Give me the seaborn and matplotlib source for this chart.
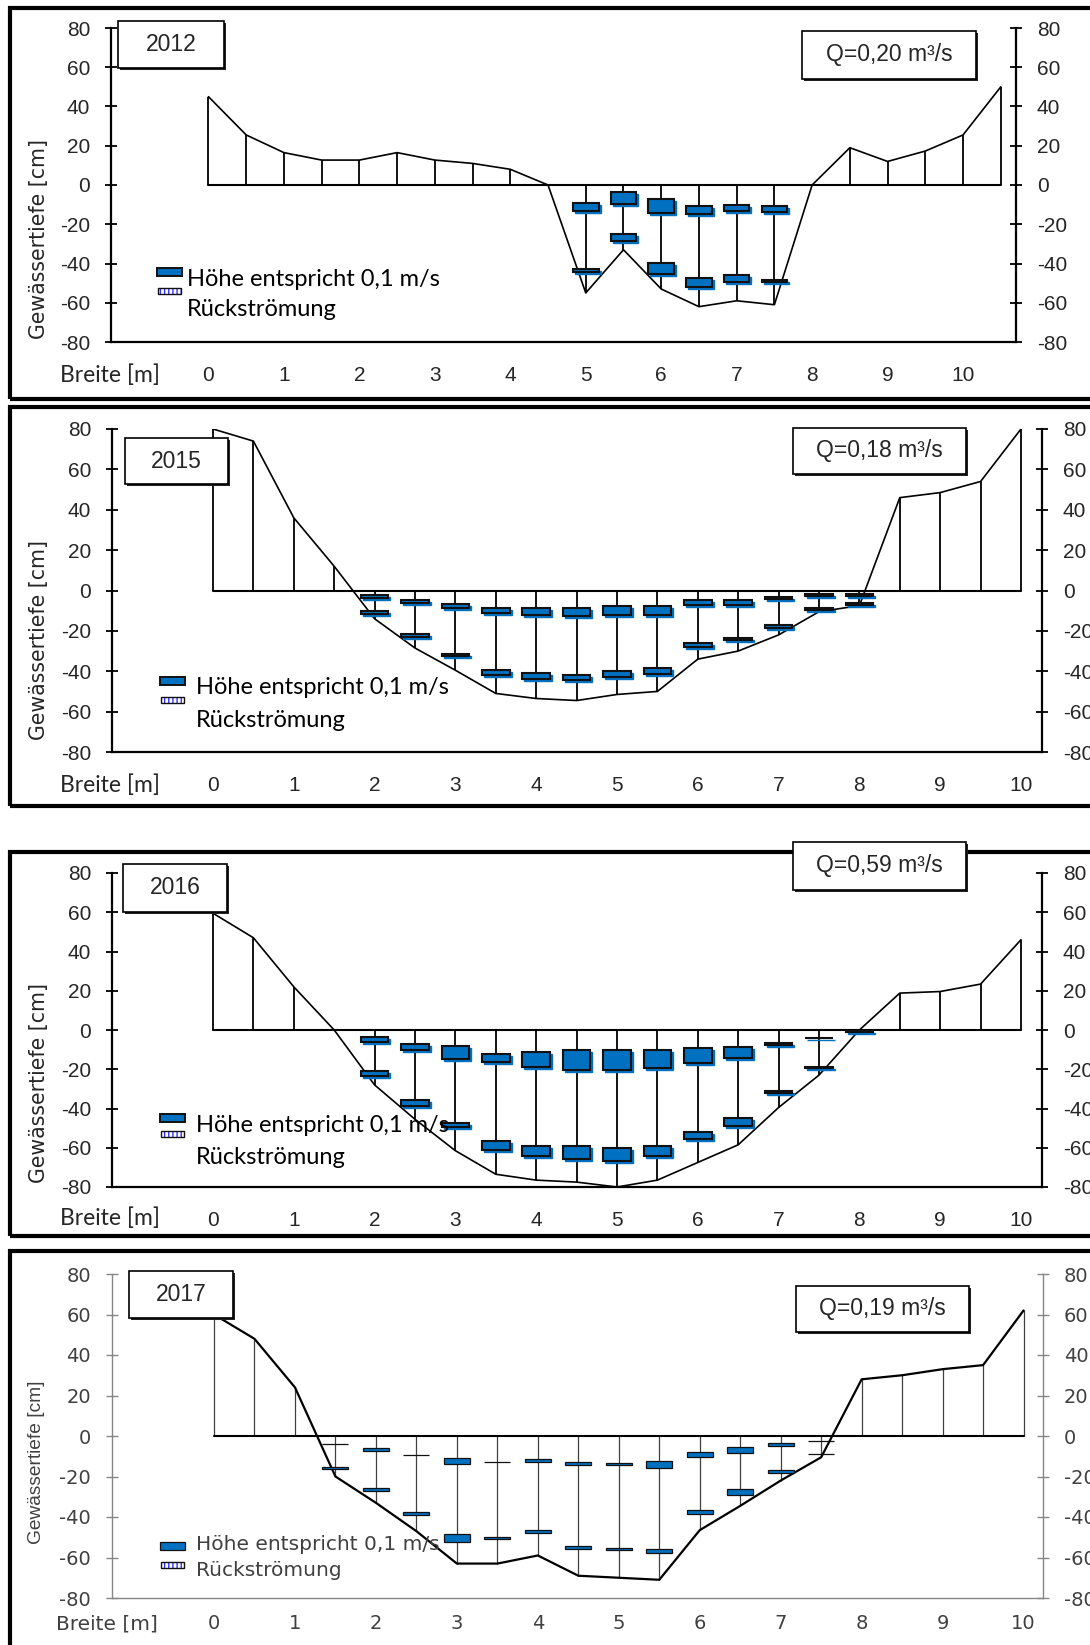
import numpy as np
import matplotlib
matplotlib.use('Agg')
import matplotlib.pyplot as plt
import seaborn as sns
from matplotlib.patches import Rectangle
from matplotlib import transforms

xs = np.arange(0, 10.01, 0.5)
x12 = np.arange(0, 10.51, 0.5)

bed12 = [45, 25.5, 16.5, 12.7, 12.7, 16.5, 12.7, 11, 8, 0, -55, -33, -53, -62, -59, -61,
         0, 19, 12, 17.3, 25.5, 50]
st12 = [5, 5.5, 6, 6.5, 7, 7.5]
up_top12 = [-9, -3.5, -7, -10.5, -10, -10.5]
up_bot12 = [-13.5, -9.5, -14.5, -15, -13.5, -14]
lo_top12 = [-43, -25, -39.5, -47.5, -46, -48.5]
lo_bot12 = [-44.5, -28.5, -45.5, -52, -49.5, -49.5]

bed15 = [80, 74, 36, 12, -14, -28.5, -39.5, -51, -53.5, -54.5, -51.5, -50, -34, -30, -22,
         -10.5, -7.5, 46, 48.5, 54, 80]
st15 = [2, 2.5, 3, 3.5, 4, 4.5, 5, 5.5, 6, 6.5, 7, 7.5, 8]
up_top15 = [-2, -4.8, -6.6, -8.6, -8.6, -8.6, -7.5, -7.5, -4.8, -4.8, -3.2, -1.5, -1.5]
up_bot15 = [-3.5, -6, -8.5, -11, -12, -12.5, -12, -12.3, -7.3, -7, -4.3, -2.5, -2.8]
lo_top15 = [-10, -21.4, -31.3, -39.3, -41, -42, -40, -38.4, -26, -23.5, -17.2, -8.6, -6]
lo_bot15 = [-11.5, -23, -32.5, -42, -43.8, -44.5, -43, -41.2, -28, -24.5, -18.5, -9.5, -7.3]

bed16 = [59.5, 47, 22, 0, -28, -45.5, -61.5, -73.5, -76.5, -77.5, -80, -76.5, -67.5, -58.5,
         -39.5, -23, 0, 18.8, 19.6, 23.4, 46]
st16 = [2, 2.5, 3, 3.5, 4, 4.5, 5, 5.5, 6, 6.5, 7, 7.5, 8]
up_top16 = [-3.7, -7.3, -8.2, -12, -11.1, -10.3, -10.3, -10.3, -9.4, -8.5, -6.8, -4.2, -0.5]
up_bot16 = [-6, -10.3, -15, -16.5, -18.6, -20.4, -20.4, -19.5, -17, -14.5, -7.8, -4.2, -1.2]
lo_top16 = [-21, -35.5, -47.5, -56.4, -59.3, -59.3, -60.2, -59.3, -52.1, -44.8, -31.3, -18.8, np.nan]
lo_bot16 = [-23.2, -38.5, -49.6, -61.4, -64.1, -65.5, -66.5, -64.1, -55.5, -48.7, -32.3, -19.3, np.nan]

bed17 = [60, 48, 24, -20, -33, -47, -63, -63, -59, -69, -70, -71, -46.5, -34.5, -22, -10.5,
         28, 30, 33, 35, 62]
st17 = [1.5, 2, 2.5, 3, 3.5, 4, 4.5, 5, 5.5, 6, 6.5, 7, 7.5]
up_top17 = [-4, -6.1, -9.5, -11, -12.7, -11.2, -13, -13.2, -12.3, -8, -5.3, -3.3, -2.3]
up_bot17 = [-4, -7.2, -9.5, -14, -12.7, -12.6, -14.4, -14.5, -15.7, -10.3, -8.3, -4.9, -2.3]
lo_top17 = [-15.5, -25.6, -37.7, -48.5, -49.7, -46.4, -54.3, -55.3, -56, -36.6, -26.3, -16.8, -8.7]
lo_bot17 = [-16.5, -27, -39.2, -52.2, -51.1, -48, -55.7, -56.5, -57.8, -38.6, -29.3, -18.5, -8.7]

years = ['2012', '2015', '2016', '2017']
q_labels = ['Q=0,20 m³/s', 'Q=0,18 m³/s', 'Q=0,59 m³/s', 'Q=0,19 m³/s']

BLUE = '#0070C0'
W, H = 1090, 1645

sns.set_style('white')
plt.rcParams['font.family'] = ['Liberation Sans', 'DejaVu Sans']
plt.rcParams['axes.unicode_minus'] = False

fig = plt.figure(figsize=(W / 100, H / 100), dpi=100)


def frect(x0, y0, x1, y1, **kw):
    # rectangle given in pixel coords (origin top left)
    r = Rectangle((x0 / W, 1 - y1 / H), (x1 - x0) / W, (y1 - y0) / H,
                  transform=fig.transFigure, **kw)
    fig.patches.append(r)
    return r


def ftext(x, y, s, **kw):
    return fig.text(x / W, 1 - y / H, s, **kw)


def label_box(x0, y0, x1, y1, s, size=16.5):
    frect(x0 + 2, y0 + 2, x1 + 2, y1 + 2, facecolor='#222222', edgecolor='none', zorder=5)
    frect(x0, y0, x1, y1, facecolor='white', edgecolor='black', lw=1.2, zorder=6)
    ftext((x0 + x1) / 2, (y0 + y1) / 2, s, ha='center', va='center', fontsize=size, zorder=7)


def draw_panel(pos, xlim, x, bed, st, ut, ub, lt, lb, new_style=False):
    L, R, T, B = pos
    ax = fig.add_axes([L / W, 1 - B / H, (R - L) / W, (B - T) / H])
    ax.patch.set_alpha(0)
    vc = '#404040' if new_style else 'black'
    ax.vlines(x, 0, bed, color=vc, lw=0.9 if new_style else 1.3, zorder=2)
    ax.plot([x[0], x[-1]], [0, 0], color='black', lw=1.5, zorder=2)
    sns.lineplot(x=x, y=bed, sort=False, color='black', lw=1.6 if new_style else 1.2,
                 ax=ax, zorder=2)
    st = np.asarray(st, float)
    w = 0.32 if new_style else 0.34
    for tops, bots in [(ut, ub), (lt, lb)]:
        t = np.asarray(tops, float)
        b = np.asarray(bots, float)
        m = ~np.isnan(t)
        if not new_style:
            shadow = transforms.offset_copy(ax.transData, fig=fig, x=2, y=-2, units='dots')
            sh = ax.bar(st[m], t[m] - b[m], bottom=b[m], width=w, color=BLUE,
                        edgecolor=BLUE, lw=1, zorder=3)
            for p in sh:
                p.set_transform(shadow)
        ax.bar(st[m], t[m] - b[m], bottom=b[m], width=w, color=BLUE,
               edgecolor='#111111', lw=0.9 if new_style else 1.5, zorder=4)

    ax.set_xlim(*xlim)
    ax.set_ylim(-80, 80)
    ax.set_xticks(range(0, 11))
    ax.set_yticks(range(-80, 81, 20))
    ax.set_xlabel('')
    ax.set_ylabel('')
    ax.spines['top'].set_visible(False)
    sc = '#868686' if new_style else 'black'
    for s in ['left', 'right', 'bottom']:
        ax.spines[s].set_color(sc)
        ax.spines[s].set_linewidth(1.0 if new_style else 1.6)
    ax.tick_params(axis='y', left=True, right=True, labelleft=True, labelright=True,
                   direction='inout', length=9, width=1.0 if new_style else 1.3,
                   color=sc, labelsize=15, pad=10.5)
    ax.tick_params(axis='x', length=0, pad=11.5 if new_style else 17, labelsize=15)
    if new_style:
        for lab in ax.get_xticklabels() + ax.get_yticklabels():
            lab.set_family('DejaVu Sans')
            lab.set_color('#404040')
            lab.set_fontsize(14)
    ax.grid(False)
    return ax


# frames around each exported chart
frect(10, 8, 1120, 399, fill=False, edgecolor='black', lw=3, zorder=0)
frect(10, 407, 1120, 806, fill=False, edgecolor='black', lw=3, zorder=0)
frect(10, 852, 1120, 1236, fill=False, edgecolor='black', lw=3, zorder=0)
frect(10, 1251, 1120, 1680, fill=False, edgecolor='black', lw=3, zorder=0)

draw_panel((111, 1016, 28, 342), (-1.292, 10.702), x12, bed12, st12,
           up_top12, up_bot12, lo_top12, lo_bot12)
draw_panel((112, 1042, 429, 752), (-1.25, 10.26), xs, bed15, st15,
           up_top15, up_bot15, lo_top15, lo_bot15)
draw_panel((112, 1042, 873, 1187), (-1.25, 10.26), xs, bed16, st16,
           up_top16, up_bot16, lo_top16, lo_bot16)
draw_panel((112, 1043, 1274, 1598), (-1.26, 10.24), xs, bed17, st17,
           up_top17, up_bot17, lo_top17, lo_bot17, new_style=True)

# year and discharge boxes
label_box(118, 21, 224, 68, years[0])
label_box(802, 31, 976, 79, q_labels[0])
label_box(125, 438, 228, 484, years[1])
label_box(793, 428, 966, 474, q_labels[1])
label_box(123, 864, 227, 912, years[2])
label_box(793, 842, 966, 890, q_labels[2])
label_box(129, 1271, 233, 1318, years[3])
label_box(796, 1286, 969, 1332, q_labels[3])

# axis titles
for yb, yc in [(382, 239), (792, 640), (1225, 1083)]:
    ftext(160, yb, 'Breite [m]', ha='right', va='baseline', fontsize=16.5, family='Lato')
    ftext(39, yc, 'Gewässertiefe [cm]', rotation=90, ha='center', va='center',
          fontsize=14.8, family='DejaVu Sans')
ftext(158, 1629, 'Breite [m]', ha='right', va='baseline', fontsize=14.5,
      family='DejaVu Sans', color='#404040')
ftext(37, 1462, 'Gewässertiefe [cm]', rotation=90, ha='center', va='center',
      fontsize=13.8, family='Liberation Sans', color='#404040')

# legends
legend_pos = [(157, 272, 291, 187, 279, 309), (160, 681, 700, 196, 688, 720),
              (160, 1118, 1134, 196, 1125, 1157), (160, 1546, 1565, 196, 1545, 1570)]
for i, (lx, m1, m2, tx, t1, t2) in enumerate(legend_pos):
    new = i == 3
    frect(lx, m1 - 4, lx + 25, m1 + 4, facecolor=BLUE, edgecolor='#111111',
          lw=0.9 if new else 1.4, zorder=6)
    frect(lx + 1, m2 - 3, lx + 24, m2 + 3, facecolor='white', edgecolor='#3333ff',
          hatch='||||', lw=0, zorder=6)
    frect(lx + 1, m2 - 3, lx + 24, m2 + 3, fill=False, edgecolor='#111111', lw=1.0, zorder=7)
    if new:
        kw = dict(fontsize=14.5, family='DejaVu Sans', color='#404040')
    else:
        kw = dict(fontsize=17, family='Lato', color='black')
    ftext(tx, t1, 'Höhe entspricht 0,1 m/s', ha='left', va='center', zorder=8, **kw)
    ftext(tx, t2, 'Rückströmung', ha='left', va='center', zorder=8, **kw)

fig.savefig('out.png', dpi=100)
